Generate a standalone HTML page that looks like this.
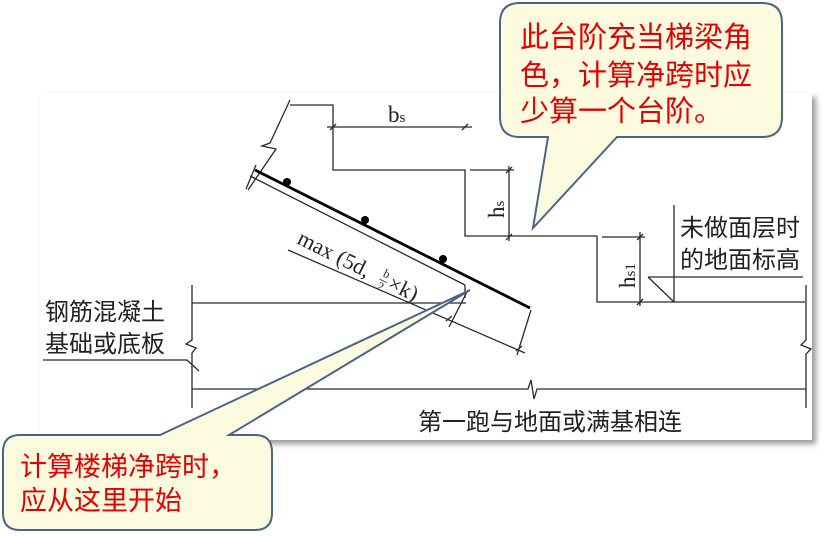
<!DOCTYPE html>
<html><head><meta charset="utf-8"><style>
html,body{margin:0;padding:0;background:#fff;}
svg{display:block;}
text{font-family:"Liberation Serif","Noto Serif CJK SC",serif;}
.cjk{font-family:"Liberation Sans","Noto Sans CJK SC",sans-serif;}
</style></head><body>
<svg width="831" height="536" viewBox="0 0 831 536" xmlns="http://www.w3.org/2000/svg">
<defs><filter id="sh" x="-5%" y="-5%" width="115%" height="115%"><feGaussianBlur stdDeviation="3"/></filter></defs>
<rect x="44" y="97" width="772" height="347" fill="#999" filter="url(#sh)"/>
<rect x="40" y="93" width="772" height="347" fill="#fff"/>
<g stroke="#2a2a2a" stroke-width="1.3" fill="none">
<polyline points="290,100 270,143 262,146 276,149 248,190"/>
<polyline points="290,105 333,105 333,170 465,170 465,236 597,236 597,302 805,302"/>
<line x1="327" y1="127" x2="472" y2="127"/>
<line x1="330" y1="130" x2="336" y2="124"/><line x1="462" y1="130" x2="468" y2="124"/>
<line x1="470" y1="170" x2="514" y2="170"/>
<line x1="509" y1="166" x2="509" y2="241"/>
<line x1="506" y1="173" x2="512" y2="167"/><line x1="506" y1="240" x2="512" y2="234"/>
<line x1="602" y1="237" x2="645" y2="237"/>
<line x1="640" y1="232" x2="640" y2="306"/>
<line x1="637" y1="240" x2="643" y2="234"/><line x1="637" y1="305" x2="643" y2="299"/>
<line x1="674" y1="205" x2="674" y2="302"/>
<line x1="648" y1="277" x2="803" y2="277"/>
<line x1="648" y1="277" x2="674" y2="302"/>
<polyline points="806,285 806,340 801,345 811,349 806,354 806,408"/>
<line x1="250" y1="176" x2="465" y2="285"/>
<line x1="465" y1="285" x2="465" y2="298"/>
<line x1="256" y1="165" x2="246" y2="189"/>
<line x1="288" y1="250" x2="525" y2="353"/>
<line x1="468" y1="290" x2="449" y2="327"/>
<line x1="531" y1="310" x2="517" y2="355"/>
<line x1="446" y1="321" x2="452" y2="316"/><line x1="516" y1="351" x2="522" y2="346"/>
<line x1="192" y1="303" x2="466" y2="303"/>
<polyline points="192,285 192,340 186,344 196,348 192,353 192,408"/>
<polyline points="43,360 187,360 199,371"/>
<polyline points="192,389 528,389 531,380 534,399 537,389 806,389"/>
</g>
<line x1="255" y1="170" x2="530" y2="308" stroke="#000" stroke-width="2.8"/>
<circle cx="287" cy="182" r="4" fill="#000"/>
<circle cx="365" cy="220" r="4" fill="#000"/>
<circle cx="443" cy="259" r="4" fill="#000"/>
<text x="388" y="122" font-size="23" fill="#222">b<tspan font-size="15">s</tspan></text>
<text transform="translate(504,218) rotate(-90)" font-size="23" fill="#222">h<tspan font-size="15">s</tspan></text>
<text transform="translate(635,288) rotate(-90)" font-size="23" fill="#222">h<tspan font-size="15">s1</tspan></text>
<g transform="translate(296,243) rotate(26.5)" fill="#222">
<text x="0" y="0" font-size="22">max (5d,</text>
<text x="92" y="-9" font-size="12">b</text>
<line x1="91" y1="-5" x2="99" y2="-5" stroke="#222" stroke-width="0.8"/>
<text x="92" y="5" font-size="12">2</text>
<text x="101" y="0" font-size="22">×k)</text>
</g>
<text class="cjk" x="680" y="236" font-size="24" fill="#222">未做面层时</text>
<text class="cjk" x="680" y="268" font-size="24" fill="#222">的地面标高</text>
<text class="cjk" x="45" y="320" font-size="24" fill="#222">钢筋混凝土</text>
<text class="cjk" x="45" y="352" font-size="24" fill="#222">基础或底板</text>
<text class="cjk" x="418" y="430" font-size="24" fill="#222">第一跑与地面或满基相连</text>
<path d="M520,3 H762 Q782,3 782,23 V117 Q782,137 762,137 H617 L533,228 L548,137 H520 Q500,137 500,117 V23 Q500,3 520,3 Z" fill="#fdfbdf" stroke="#4a6585" stroke-width="2"/>
<text class="cjk" x="520" y="47" font-size="29" fill="#e00000">此台阶充当梯梁角</text>
<text class="cjk" x="520" y="85" font-size="29" fill="#e00000">色，计算净跨时应</text>
<text class="cjk" x="520" y="121" font-size="29" fill="#e00000">少算一个台阶。</text>
<path d="M20,435 H160 L470,290 L229,435 H255 Q272,435 272,452 V513 Q272,530 255,530 H20 Q3,530 3,513 V452 Q3,435 20,435 Z" fill="#fdfbdf" stroke="#4a6585" stroke-width="2"/>
<text class="cjk" x="20" y="476" font-size="27" fill="#e00000">计算楼梯净跨时，</text>
<text class="cjk" x="20" y="510" font-size="27" fill="#e00000">应从这里开始</text>
</svg>
</body></html>
